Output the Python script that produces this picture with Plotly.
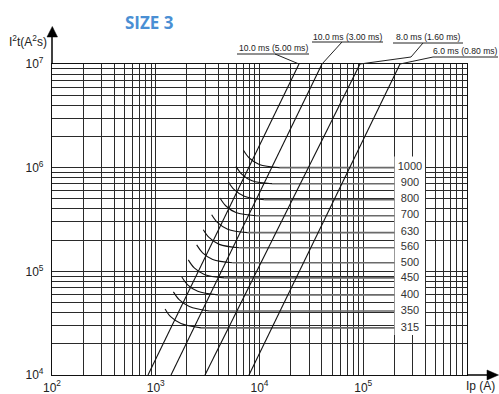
import plotly.graph_objects as go

# ---------------- data ----------------
ratings = ["1000", "900", "800", "700", "630", "560", "500", "450", "400", "350", "315"]

curve_ip = [
    [6980, 7970, 9950, 15520],
    [5940, 6780, 8470, 13200],
    [5000, 5710, 7130, 11120],
    [4160, 4750, 5930, 9250],
    [3460, 3950, 4930, 7690],
    [2870, 3280, 4090, 6380],
    [2480, 2830, 3540, 5510],
    [2060, 2350, 2940, 4580],
    [1780, 2030, 2540, 3960],
    [1480, 1690, 2110, 3290],
    [1230, 1400, 1750, 2730],
]
curve_i2t = [
    [1.48e6, 1.239e6, 1.072e6, 1.00e6],
    [1.03e6, 8.62e5, 7.46e5, 7.00e5],
    [7.32e5, 6.13e5, 5.30e5, 4.91e5],
    [5.10e5, 4.27e5, 3.69e5, 3.44e5],
    [3.52e5, 2.95e5, 2.55e5, 2.36e5],
    [2.52e5, 2.11e5, 1.82e5, 1.69e5],
    [1.80e5, 1.51e5, 1.30e5, 1.21e5],
    [1.29e5, 1.08e5, 9.34e4, 8.65e4],
    [8.85e4, 7.41e4, 6.41e4, 5.93e4],
    [6.34e4, 5.31e4, 4.59e4, 4.15e4],
    [4.34e4, 3.63e4, 3.14e4, 2.85e4],
]
level_i2t = [1.00e6, 7.00e5, 4.91e5, 3.44e5, 2.36e5, 1.69e5, 1.21e5, 8.65e4, 5.93e4, 4.15e4, 2.85e4]
level_end_ip = 2.0e5
label_col_ip = 2.82e5
label_box_ip = [2.0e5, 3.94e5]
label_box_i2t = [2.43e4, 1.28e6]

diag_labels = ["10.0 ms (5.00 ms)", "10.0 ms (3.00 ms)", "8.0 ms (1.60 ms)", "6.0 ms (0.80 ms)"]
diag_ip = [[842, 24030], [1403, 40030], [2983, 93040], [7921, 226100]]
diag_i2t = [1e4, 1e7]

x_major_vals = [1e2, 1e3, 1e4, 1e5]
x_major_text = ["10<sup>2</sup>", "10<sup>3</sup>", "10<sup>4</sup>", "10<sup>5</sup>"]
x_minor_vals = [m * 10 ** d for d in range(2, 6) for m in range(2, 10)] + [1e6]
y_major_vals = [1e4, 1e5, 1e6, 1e7]
y_major_text = ["10<sup>4</sup>", "10<sup>5</sup>", "10<sup>6</sup>", "10<sup>7</sup>"]
y_minor_vals = [m * 10 ** d for d in range(4, 7) for m in range(2, 10)]

# ---------------- figure ----------------
W, H = 499, 394
L, R, T, B = 52, 32, 64, 19
PW, PH = W - L - R, H - T - B


def P(x, y):
    return (x - L) / PW, (H - B - y) / PH


fig = go.Figure()

# white box behind the rating labels
fig.add_trace(go.Scatter(
    x=[label_box_ip[0], label_box_ip[1], label_box_ip[1], label_box_ip[0], label_box_ip[0]],
    y=[label_box_i2t[0], label_box_i2t[0], label_box_i2t[1], label_box_i2t[1], label_box_i2t[0]],
    fill="toself", fillcolor="white", line=dict(width=0), mode="lines",
    hoverinfo="skip", showlegend=False))

# horizontal rating lines
for i, r in enumerate(ratings):
    fig.add_trace(go.Scatter(
        x=[curve_ip[i][-1], level_end_ip], y=[level_i2t[i], level_i2t[i]],
        mode="lines", line=dict(color="#6a6a6a", width=1.6), showlegend=False))

# rating curves
for i, r in enumerate(ratings):
    fig.add_trace(go.Scatter(
        x=curve_ip[i], y=curve_i2t[i], mode="lines",
        line=dict(color="#111111", width=1.1, shape="spline", smoothing=1.0),
        showlegend=False))

# diagonal lines
for i, lab in enumerate(diag_labels):
    fig.add_trace(go.Scatter(
        x=diag_ip[i], y=diag_i2t, mode="lines",
        line=dict(color="#111111", width=1.1), showlegend=False))

# rating labels
fig.add_trace(go.Scatter(
    x=[label_col_ip] * len(ratings), y=level_i2t, text=ratings, mode="text",
    textfont=dict(family="Liberation Sans, Arial", size=11, color="#333333"),
    showlegend=False, cliponaxis=False))

axis_common = dict(showgrid=True, gridcolor="#2a2a2a", gridwidth=1, zeroline=False,
                   showline=True, linecolor="#111111", linewidth=1.2, mirror=True,
                   ticks="", automargin=False,
                   tickfont=dict(family="Liberation Sans, Arial", size=12, color="#222222"))

fig.update_xaxes(type="log", range=[2, 6], tickmode="array", tickvals=x_major_vals,
                 ticktext=x_major_text, ticklabelstandoff=1,
                 minor=dict(tickmode="array", tickvals=x_minor_vals, showgrid=True,
                            gridcolor="#2a2a2a", gridwidth=1, ticks=""),
                 **axis_common)
fig.update_yaxes(type="log", range=[4, 7], tickmode="array", tickvals=y_major_vals,
                 ticktext=y_major_text, ticklabelstandoff=5,
                 minor=dict(tickmode="array", tickvals=y_minor_vals, showgrid=True,
                            gridcolor="#2a2a2a", gridwidth=1, ticks=""),
                 **axis_common)

shapes = []
annos = []

# top labels with underline + leaders
top_labels = [
    (diag_labels[0], 273, 48, 237, 309, 54, [(275, 54), (299, 64)]),
    (diag_labels[1], 347.5, 36.5, 312, 383, 42, [(342, 42), (322, 64)]),
    (diag_labels[2], 428, 37, 393, 463, 43, [(423, 43), (411, 57), (360, 64)]),
    (diag_labels[3], 465.5, 51, 433, 498, 57, [(433, 57), (400, 64)]),
]
for text, cx, cy, ux0, ux1, uy, pts in top_labels:
    px, py = P(cx, cy)
    annos.append(dict(text=text, x=px, y=py, xref="paper", yref="paper",
                      showarrow=False, xanchor="center", yanchor="middle",
                      font=dict(family="Liberation Sans, Arial", size=8.6, color="#222222")))
    a, b = P(ux0, uy)
    c, d = P(ux1, uy)
    shapes.append(dict(type="line", xref="paper", yref="paper", x0=a, y0=b, x1=c, y1=d,
                       line=dict(color="#222222", width=1)))
    for (x0, y0), (x1, y1) in zip(pts[:-1], pts[1:]):
        a, b = P(x0, y0)
        c, d = P(x1, y1)
        shapes.append(dict(type="line", xref="paper", yref="paper", x0=a, y0=b, x1=c, y1=d,
                           line=dict(color="#222222", width=1)))

# y axis arrow
a, b = P(52, 64)
c, d = P(52, 36)
shapes.append(dict(type="line", xref="paper", yref="paper", x0=a, y0=b, x1=c, y1=d,
                   line=dict(color="#000000", width=1.5)))
p1, p2, p3 = P(52.3, 26.5), P(47, 37), P(57.5, 37)
shapes.append(dict(type="path", xref="paper", yref="paper",
                   path="M %f,%f L %f,%f L %f,%f Z" % (p1 + p2 + p3),
                   fillcolor="#000000", line=dict(color="#000000", width=0.5)))
# x axis arrow
a, b = P(467, 375)
c, d = P(488, 375)
shapes.append(dict(type="line", xref="paper", yref="paper", x0=a, y0=b, x1=c, y1=d,
                   line=dict(color="#000000", width=1.5)))
p1, p2, p3 = P(498.5, 375), P(487, 370), P(487, 380)
shapes.append(dict(type="path", xref="paper", yref="paper",
                   path="M %f,%f L %f,%f L %f,%f Z" % (p1 + p2 + p3),
                   fillcolor="#000000", line=dict(color="#000000", width=0.5)))

# axis titles
px, py = P(49, 41)
annos.append(dict(text="I<sup>2</sup>t(A<sup>2</sup>s)", x=px, y=py, xref="paper", yref="paper",
                  showarrow=False, xanchor="right", yanchor="middle",
                  font=dict(family="Liberation Sans, Arial", size=12, color="#222222")))
px, py = P(481, 386)
annos.append(dict(text="Ip (A)", x=px, y=py, xref="paper", yref="paper",
                  showarrow=False, xanchor="center", yanchor="middle",
                  font=dict(family="Liberation Sans, Arial", size=12, color="#222222")))
# title
px, py = P(149, 22)
annos.append(dict(text="<b>SIZE 3</b>", x=px, y=py, xref="paper", yref="paper",
                  showarrow=False, xanchor="center", yanchor="middle",
                  font=dict(family="Open Sans", size=17, color="#4a8fd4")))

fig.update_layout(width=W, height=H, margin=dict(l=L, r=R, t=T, b=B, autoexpand=False),
                  paper_bgcolor="white", plot_bgcolor="white",
                  shapes=shapes, annotations=annos, showlegend=False)

fig.write_html("out.html", config={"displayModeBar": False},
               post_script="document.body.style.margin='0px';document.body.style.padding='0px';")
